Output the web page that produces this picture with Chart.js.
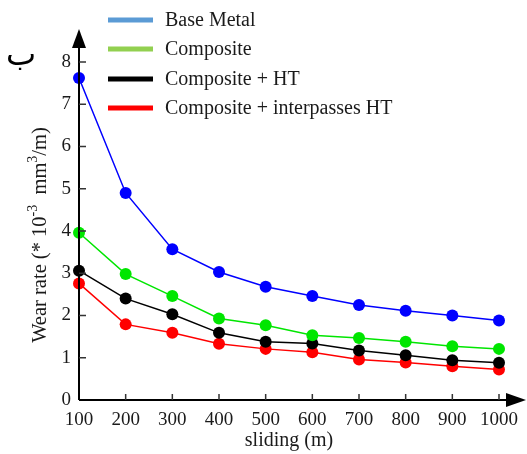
<!DOCTYPE html>
<html>
<head>
<meta charset="utf-8">
<script src="https://cdn.jsdelivr.net/npm/chart.js@4.4.1/dist/chart.umd.min.js"></script>
<style>
  html, body { margin: 0; padding: 0; background: #fff; }
  #wrap { position: relative; width: 527px; height: 454px; }
</style>
</head>
<body>
<div id="wrap"><canvas id="c" width="527" height="454"></canvas></div>
<script>
const sliding = [100, 200, 300, 400, 500, 600, 700, 800, 900, 1000];
const baseMetal = [7.62, 4.90, 3.57, 3.03, 2.68, 2.46, 2.25, 2.11, 2.00, 1.88];
const composite = [3.96, 2.98, 2.46, 1.93, 1.77, 1.53, 1.47, 1.38, 1.27, 1.21];
const compositeHT = [3.06, 2.40, 2.03, 1.59, 1.38, 1.34, 1.17, 1.06, 0.94, 0.88];
const compositeInterHT = [2.76, 1.79, 1.59, 1.33, 1.21, 1.13, 0.96, 0.89, 0.80, 0.72];
const yTicks = [0, 1, 2, 3, 4, 5, 6, 7, 8];
const seriesNames = ['Base Metal', 'Composite', 'Composite + HT', 'Composite + interpasses HT'];
const lineColors = ['#0000ff', '#00e600', '#000000', '#ff0000'];
const legendColors = ['#5b9bd5', '#92d050', '#000000', '#ff0000'];

const SERIF = '"Liberation Serif", "Times New Roman", serif';
const TXT = '#1a1a1a';

function mk(i, data) {
  return {
    label: seriesNames[i],
    data: sliding.map((x, k) => ({x: x, y: data[k]})),
    borderColor: lineColors[i],
    backgroundColor: lineColors[i],
    borderWidth: 1.5,
    pointRadius: 6,
    pointHoverRadius: 6,
    pointBorderWidth: 0,
    tension: 0,
    clip: false
  };
}

const decor = {
  id: 'decor',
  afterDraw(chart) {
    const ctx = chart.ctx;
    const xs = chart.scales.x, ys = chart.scales.y;
    const x0 = xs.left, y0 = ys.bottom;
    ctx.save();
    // axes
    ctx.strokeStyle = '#000';
    ctx.lineWidth = 2;
    ctx.beginPath();
    ctx.moveTo(x0, y0); ctx.lineTo(x0, 45);
    ctx.moveTo(x0, y0); ctx.lineTo(510, y0);
    ctx.stroke();
    ctx.fillStyle = '#000';
    ctx.beginPath();
    ctx.moveTo(x0, 29); ctx.lineTo(x0 - 7, 48); ctx.lineTo(x0 + 7, 48); ctx.closePath(); ctx.fill();
    ctx.beginPath();
    ctx.moveTo(526, y0); ctx.lineTo(506, y0 - 7); ctx.lineTo(506, y0 + 7); ctx.closePath(); ctx.fill();
    // inward ticks
    ctx.lineWidth = 1.5;
    ctx.strokeStyle = '#333';
    ctx.beginPath();
    yTicks.forEach(v => { if (v === 0) return; const p = ys.getPixelForValue(v); ctx.moveTo(x0, p); ctx.lineTo(x0 + 7, p); });
    sliding.forEach(v => { if (v === 100) return; const p = xs.getPixelForValue(v); ctx.moveTo(p, y0); ctx.lineTo(p, y0 - 6); });
    ctx.stroke();
    // x title
    ctx.fillStyle = TXT;
    ctx.font = '20px ' + SERIF;
    ctx.textAlign = 'center';
    ctx.textBaseline = 'middle';
    ctx.fillText('sliding (m)', (xs.left + xs.right) / 2, 441);
    // y title with superscripts
    ctx.save();
    ctx.translate(41, 235);
    ctx.rotate(-Math.PI / 2);
    const parts = [
      ['Wear rate (* 10', false], ['-3', true], ['  mm', false], ['3', true], ['/m)', false]
    ];
    const big = '20.5px ' + SERIF, small = '14px ' + SERIF;
    let total = 0;
    parts.forEach(p => { ctx.font = p[1] ? small : big; total += ctx.measureText(p[0]).width; });
    let cx = -total / 2;
    ctx.textAlign = 'left';
    parts.forEach(p => {
      ctx.font = p[1] ? small : big;
      ctx.fillText(p[0], cx, p[1] ? -8 : 0);
      cx += ctx.measureText(p[0]).width;
    });
    ctx.restore();
    // legend
    const rows = [20, 49, 79, 108];
    ctx.font = '20px ' + SERIF;
    ctx.textAlign = 'left';
    ctx.textBaseline = 'middle';
    rows.forEach((ry, i) => {
      ctx.fillStyle = legendColors[i];
      ctx.fillRect(108, ry - 2.5, 45, 5);
      ctx.fillStyle = TXT;
      ctx.fillText(seriesNames[i], 165, ry + 1);
    });
    ctx.restore();
  }
};

new Chart(document.getElementById('c'), {
  type: 'line',
  data: { datasets: [mk(0, baseMetal), mk(1, composite), mk(2, compositeHT), mk(3, compositeInterHT)] },
  options: {
    responsive: false,
    animation: false,
    events: [],
    layout: { padding: { top: 62, right: 27, left: 0, bottom: 0 } },
    plugins: { legend: { display: false }, tooltip: { enabled: false } },
    scales: {
      x: {
        type: 'linear',
        min: 100, max: 1000,
        afterFit(s) { s.height = 54; },
        afterBuildTicks(s) { s.ticks = sliding.map(v => ({value: v})); },
        grid: { display: false, drawTicks: false },
        border: { display: false },
        ticks: { color: TXT, font: { family: SERIF, size: 19 }, padding: 9, maxRotation: 0, autoSkip: false,
                 callback: v => String(v) }
      },
      y: {
        type: 'linear',
        min: 0, max: 8,
        afterFit(s) { s.width = 79; },
        afterBuildTicks(s) { s.ticks = yTicks.map(v => ({value: v})); },
        grid: { display: false, drawTicks: false },
        border: { display: false },
        ticks: { color: TXT, font: { family: SERIF, size: 19 }, padding: 8, callback: v => String(v) }
      }
    }
  },
  plugins: [decor]
});
</script>
<div style="position:absolute; left:6px; top:35px; font-family:'DejaVu Sans', sans-serif; font-size:32px; line-height:38px; color:#000;" dir="rtl" lang="ar">ب</div>
</body>
</html>
